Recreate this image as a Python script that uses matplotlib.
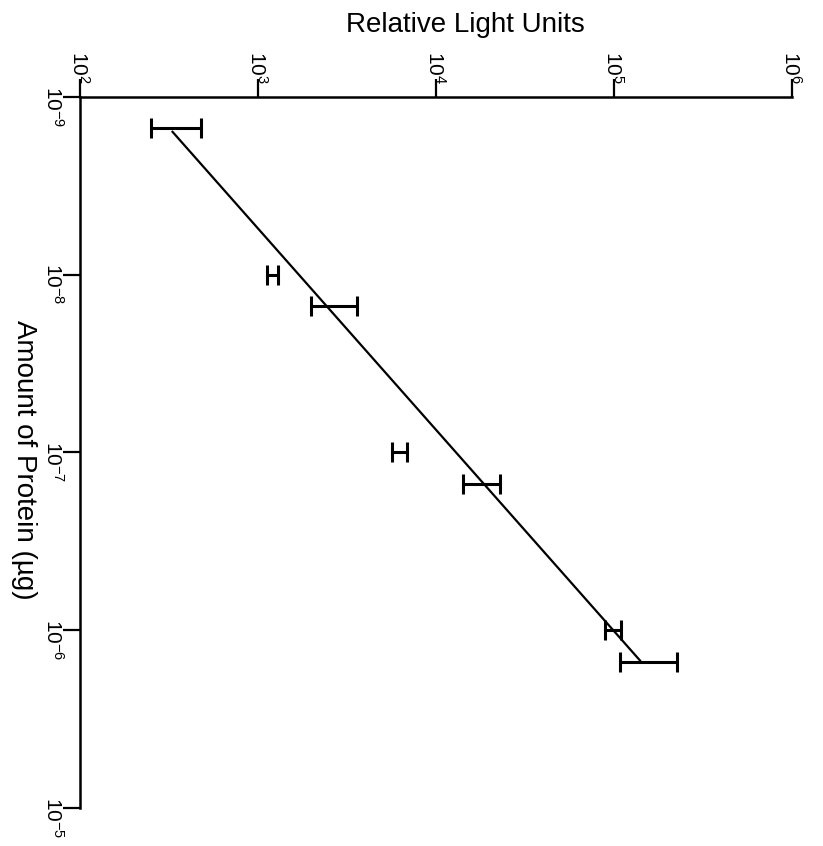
import numpy as np
import matplotlib
matplotlib.use("Agg")
import matplotlib.pyplot as plt

plt.rcParams['font.family'] = ['Liberation Sans', 'DejaVu Sans']
plt.rcParams['mathtext.fontset'] = 'custom'
plt.rcParams['mathtext.rm'] = 'Liberation Sans'

# amount of protein (ug) and luminescence readings
protein = [1.5e-9, 1.0e-8, 1.5e-8, 1.0e-7, 1.5e-7, 1.0e-6, 1.5e-6]
rlu_low = [252, 1117, 1995, 5640, 14130, 88700, 107700]
rlu_high = [476, 1290, 3580, 6840, 22800, 109100, 225300]

# fitted line endpoints
fit_protein = [1.57e-9, 1.48e-6]
fit_rlu = [331, 1.40e5]

rlu_ticks = [1e2, 1e3, 1e4, 1e5, 1e6]
rlu_labels = ['$\\mathregular{10^{2}}$', '$\\mathregular{10^{3}}$', '$\\mathregular{10^{4}}$',
              '$\\mathregular{10^{5}}$', '$\\mathregular{10^{6}}$']
prot_ticks = [1e-9, 1e-8, 1e-7, 1e-6, 1e-5]
prot_labels = ['$\\mathregular{10^{-9}}$', '$\\mathregular{10^{-8}}$', '$\\mathregular{10^{-7}}$',
               '$\\mathregular{10^{-6}}$', '$\\mathregular{10^{-5}}$']

lo = np.array(rlu_low)
hi = np.array(rlu_high)
mid = (lo + hi) / 2
err = [mid - lo, hi - mid]

fig = plt.figure(figsize=(8.23, 8.46), dpi=100)
ax = fig.add_axes([80/823, 1-808/846, 712/823, 711/846])

ax.plot(fit_rlu, fit_protein, color='black', lw=1.6)
ax.errorbar(mid, protein, xerr=err, fmt='none', ecolor='black',
            elinewidth=2.2, capsize=7, capthick=2.2)

ax.set_xscale('log')
ax.set_yscale('log')
ax.set_xlim(1e2, 1e6)
ax.set_ylim(1e-5, 1e-9)

ax.set_xticks(rlu_ticks)
ax.set_yticks(prot_ticks)
ax.minorticks_off()

ax.xaxis.set_ticks_position('top')
ax.tick_params(axis='x', top=True, labeltop=False, bottom=False, labelbottom=False,
               length=13, width=1.6, direction='out')
ax.tick_params(axis='y', left=True, labelleft=False, length=12, width=1.6, direction='out')

# tick labels drawn by hand so the "10" sits centred on the tick, as in the scan
for t, lab in zip(rlu_ticks, rlu_labels):
    ax.annotate(lab, xy=(t, 1), xycoords=('data', 'axes fraction'),
                xytext=(-7.5, 13), textcoords='offset pixels', rotation=-90,
                rotation_mode='anchor', ha='right', va='baseline', fontsize=15,
                annotation_clip=False)
for t, lab in zip(prot_ticks, prot_labels):
    ax.annotate(lab, xy=(0, t), xycoords=('axes fraction', 'data'),
                xytext=(-34, 11.5), textcoords='offset pixels', rotation=-90,
                rotation_mode='anchor', ha='left', va='baseline', fontsize=15,
                annotation_clip=False)

ax.spines['right'].set_visible(False)
ax.spines['bottom'].set_visible(False)
ax.spines['top'].set_linewidth(1.8)
ax.spines['left'].set_linewidth(1.8)

fig.text(465/823, 1-25/846, 'Relative Light Units', ha='center', va='center', fontsize=20)
fig.text(24/823, 1-460/846, 'Amount of Protein (\u00b5g)', ha='center', va='center',
         fontsize=20, rotation=-90)

fig.savefig('out.png', dpi=100)
